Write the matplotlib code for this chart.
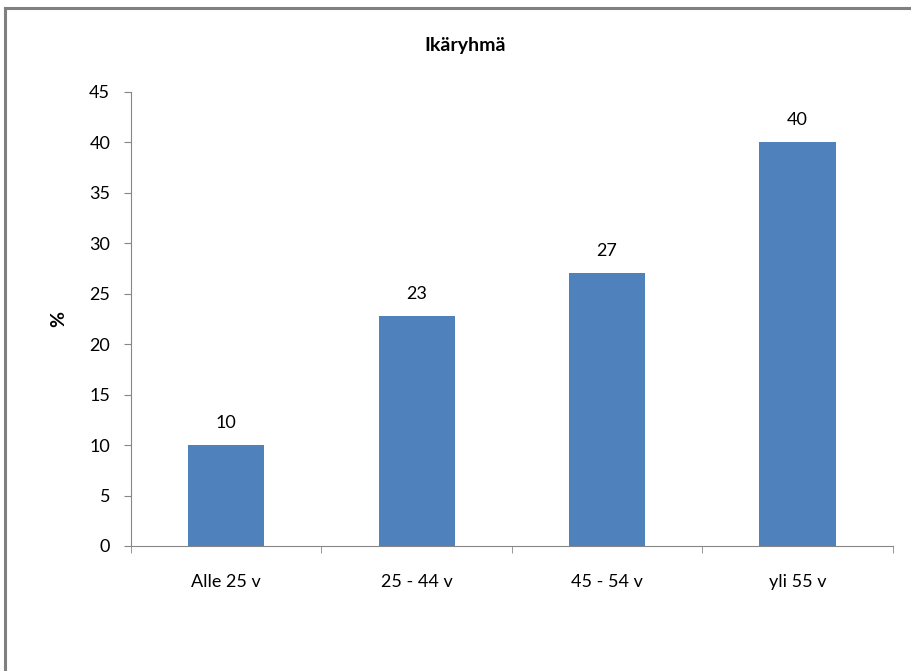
import numpy as np
import matplotlib.pyplot as plt
from matplotlib.lines import Line2D

# Data
categories = ["Alle 25 v", "25 - 44 v", "45 - 54 v", "yli 55 v"]
values = [10.0, 22.8, 27.1, 40.0]
yticks = list(range(0, 50, 5))

plt.rcParams["font.family"] = ["Lato", "DejaVu Sans"]

fig = plt.figure(figsize=(9.11, 6.71), dpi=100)
ax = fig.add_axes([0.1438, 0.1863, 0.8362, 0.6767])

x = np.arange(len(categories))
bars = ax.bar(x, values, width=0.4, color="#4F81BD")

for rect, v in zip(bars, values):
    ax.annotate(f"{v:.0f}", (rect.get_x() + rect.get_width() / 2, v),
                xytext=(0, 10), textcoords="offset points",
                ha="center", va="bottom", fontsize=13, color="black")

ax.set_xlim(-0.5, len(categories) - 0.5)
ax.set_ylim(0, 45)
ax.set_yticks(yticks)
ax.set_xticks(x)
ax.set_xticklabels(categories)
ax.set_xticks(np.arange(-0.5, len(categories)), minor=True)

axis_color = "#868686"
for side in ["top", "right"]:
    ax.spines[side].set_visible(False)
for side in ["left", "bottom"]:
    ax.spines[side].set_color(axis_color)

ax.tick_params(axis="y", length=5, color=axis_color, pad=10, labelsize=13)
ax.tick_params(axis="x", which="major", length=0, pad=20, labelsize=13)
ax.tick_params(axis="x", which="minor", length=5, color=axis_color)

ax.set_ylabel("%", fontsize=14, fontweight="bold", labelpad=16)
fig.text(465 / 911, 1 - 45 / 671, "Ikäryhmä", ha="center", va="center",
         fontsize=14, fontweight="bold")

# Outer frame (top and left edges visible)
fig.add_artist(Line2D([5 / 911, 1], [1 - 7.5 / 671] * 2, color="#808080", lw=2.2,
                      transform=fig.transFigure))
fig.add_artist(Line2D([5 / 911] * 2, [0, 1 - 7.5 / 671], color="#808080", lw=2.2,
                      transform=fig.transFigure))

fig.savefig("out.png", dpi=100)
